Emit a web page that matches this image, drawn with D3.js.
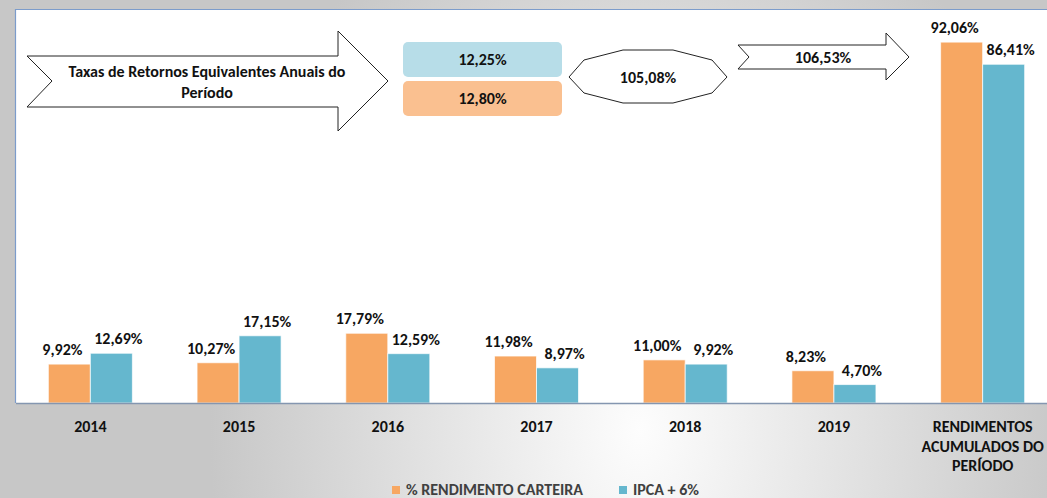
<!DOCTYPE html>
<html>
<head>
<meta charset="utf-8">
<script src="https://cdn.jsdelivr.net/npm/d3@7"></script>
<style>
  html, body { margin: 0; padding: 0; background: #fff; }
  svg { display: block; font-family: Carlito, Calibri, "Open Sans", sans-serif; font-weight: 700; }
</style>
</head>
<body>
<svg id="chart" width="1047" height="498"></svg>
<script>
// ---- data ----
const categories = ["2014", "2015", "2016", "2017", "2018", "2019", "RENDIMENTOS ACUMULADOS DO PERÍODO"];
const categoryLines = [["2014"], ["2015"], ["2016"], ["2017"], ["2018"], ["2019"], ["RENDIMENTOS", "ACUMULADOS DO", "PERÍODO"]];
const seriesNames = ["% RENDIMENTO CARTEIRA", "IPCA + 6%"];
const carteira = [9.92, 10.27, 17.79, 11.98, 11.00, 8.23, 92.06];
const ipca = [12.69, 17.15, 12.59, 8.97, 9.92, 4.70, 86.41];
const taxaEquivIpca = 12.25;
const taxaEquivCarteira = 12.80;
const relacaoEquivalente = 105.08;
const relacaoAcumulada = 106.53;
const calloutTitle = ["Taxas de Retornos Equivalentes Anuais do", "Período"];

// ---- setup ----
const W = 1047, H = 498;
const colors = ["#F7A762", "#65B7CE"];
const plot = { left: 16, top: 10, right: 1057, bottom: 403 };
const FS = 16;

const locale = d3.formatLocale({ decimal: ",", thousands: ".", grouping: [3], currency: ["R$", ""] });
const pct = v => locale.format(".2f")(v) + "%";

const svg = d3.select("#chart");
const defs = svg.append("defs");

// soft grey backdrop
const grad = defs.append("radialGradient")
  .attr("id", "bg")
  .attr("gradientUnits", "userSpaceOnUse")
  .attr("cx", 640).attr("cy", 430).attr("r", 430)
  .attr("gradientTransform", "translate(640,430) scale(1,1.4) translate(-640,-430)");
grad.append("stop").attr("offset", 0).attr("stop-color", "#fdfdfd");
grad.append("stop").attr("offset", 1).attr("stop-color", "#c7c7c7");

svg.append("rect").attr("width", W).attr("height", H).attr("fill", "url(#bg)");

// plot area
svg.append("rect")
  .attr("x", plot.left).attr("y", plot.top)
  .attr("width", plot.right - plot.left).attr("height", plot.bottom - plot.top)
  .attr("fill", "#fff");
svg.append("line")
  .attr("x1", plot.left - 0.5).attr("x2", plot.left - 0.5)
  .attr("y1", plot.top - 1).attr("y2", plot.bottom)
  .attr("stroke", "#7C9CCB").attr("stroke-width", 1.2);
svg.append("line")
  .attr("x1", plot.left - 1).attr("x2", W)
  .attr("y1", plot.top - 0.5).attr("y2", plot.top - 0.5)
  .attr("stroke", "#7C9CCB").attr("stroke-width", 1.2);

// scales
const x0 = d3.scaleBand().domain(categories)
  .range([plot.left, plot.right]).paddingInner(0.435).paddingOuter(0.2175);
const x1 = d3.scaleBand().domain(seriesNames).range([0, x0.bandwidth()]);
const y = d3.scaleLinear().domain([0, 100]).range([plot.bottom, plot.top + 1]);

const rows = categories.map((c, i) => ({ cat: c, vals: [carteira[i], ipca[i]] }));

// bars
const groups = svg.append("g").selectAll("g").data(rows).join("g")
  .attr("transform", d => `translate(${x0(d.cat)},0)`);

groups.selectAll("rect").data(d => d.vals.map((v, k) => ({ v, k }))).join("rect")
  .attr("x", d => x1(seriesNames[d.k]))
  .attr("y", d => y(d.v))
  .attr("width", x1.bandwidth())
  .attr("height", d => y(0) - y(d.v))
  .attr("fill", d => colors[d.k])
  .attr("stroke", "#ffffff").attr("stroke-opacity", 0.7).attr("stroke-width", 1);

// value labels
groups.selectAll("text").data(d => d.vals.map((v, k) => ({ v, k }))).join("text")
  .attr("x", d => x1(seriesNames[d.k]) + x1.bandwidth() / 2 + (d.k === 0 ? -7 : 7))
  .attr("y", d => y(d.v) - 9)
  .attr("text-anchor", "middle")
  .attr("font-size", FS)
  .attr("fill", "#111")
  .text(d => pct(d.v));

// x axis (inherit the page font instead of the axis default)
const xAxis = svg.append("g")
  .attr("transform", `translate(0,${plot.bottom})`)
  .call(d3.axisBottom(x0).tickSize(0).tickPadding(0))
  .attr("font-family", null)
  .attr("font-size", FS);
xAxis.select(".domain").attr("stroke", "#8496B0").attr("stroke-width", 1.6)
  .attr("d", `M${plot.left},0.5H${W}`);
xAxis.selectAll(".tick text").each(function (d, i) {
  const t = d3.select(this).text(null)
    .attr("y", 0).attr("dy", null)
    .attr("fill", "#111");
  categoryLines[i].forEach((ln, j) => {
    t.append("tspan").attr("x", 0).attr("y", 29 + j * 19.5).text(ln);
  });
});

// legend
const legend = svg.append("g").attr("font-size", FS).attr("fill", "#404040");
const legendX = [392, 619];
seriesNames.forEach((s, i) => {
  legend.append("rect").attr("x", legendX[i]).attr("y", 486).attr("width", 8).attr("height", 8).attr("fill", colors[i]);
  legend.append("text").attr("x", legendX[i] + 14).attr("y", 495).text(s);
});

// ---- callouts ----
const ann = svg.append("g").attr("font-size", FS).attr("fill", "#111");

// big notched arrow
ann.append("polygon")
  .attr("points", "27,56 338,56 338,31 388,81 338,131 338,107 27,107 52,81")
  .attr("fill", "#fff").attr("stroke", "#222").attr("stroke-width", 1);
calloutTitle.forEach((ln, j) => {
  ann.append("text").attr("x", 207).attr("y", 77 + j * 20.5)
    .attr("text-anchor", "middle").text(ln);
});

// equivalent annual rates boxes
const boxes = [
  { v: taxaEquivIpca, fill: "#B7DDE8", y: 42 },
  { v: taxaEquivCarteira, fill: "#FAC090", y: 81 }
];
boxes.forEach(b => {
  ann.append("rect").attr("x", 403).attr("y", b.y).attr("width", 159).attr("height", 35)
    .attr("rx", 5).attr("fill", b.fill);
  ann.append("text").attr("x", 482.5).attr("y", b.y + 23)
    .attr("text-anchor", "middle").text(pct(b.v));
});

// decagon
ann.append("polygon")
  .attr("points", "569,77 584,60 623,50 673,50 712,60 727,77 712,93 673,103 623,103 584,93")
  .attr("fill", "#fff").attr("stroke", "#222").attr("stroke-width", 1);
ann.append("text").attr("x", 648).attr("y", 83).attr("text-anchor", "middle").text(pct(relacaoEquivalente));

// small notched arrow
ann.append("polygon")
  .attr("points", "738,45 886,45 886,33 909,57 886,80 886,69 738,69 749,57")
  .attr("fill", "#fff").attr("stroke", "#222").attr("stroke-width", 1);
ann.append("text").attr("x", 823).attr("y", 63).attr("text-anchor", "middle").text(pct(relacaoAcumulada));
</script>
</body>
</html>
